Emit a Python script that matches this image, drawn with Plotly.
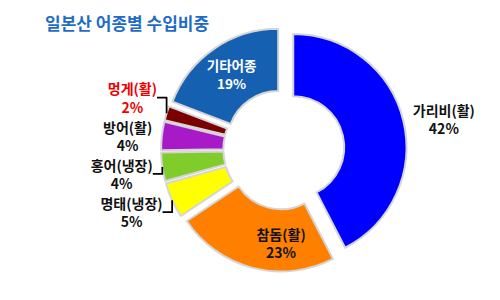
import plotly.graph_objects as go

labels = ["가리비(활)", "참돔(활)", "명태(냉장)", "홍어(냉장)", "방어(활)", "멍게(활)", "기타어종"]
values = [42, 23, 5, 4, 4, 2, 19]
colors = ["#0000FF", "#FF8000", "#FFFF00", "#80CC2A", "#A81AC8", "#7A0000", "#1560B0"]
text_pos = ["outside", "inside", "outside", "outside", "outside", "outside", "inside"]
text_colors = ["#111111", "#111111", "#111111", "#111111", "#111111", "#EE0000", "#FFFFFF"]

fig = go.Figure(go.Pie(
    labels=labels,
    values=values,
    sort=False,
    direction="clockwise",
    rotation=0,
    hole=0.45,
    pull=[0.09, 0.08, 0.08, 0.08, 0.08, 0.08, 0.08],
    marker=dict(colors=colors, line=dict(color="#D5D5D5", width=2)),
    textposition=text_pos,
    texttemplate="%{label}<br>%{value}%",
    textfont=dict(color=text_colors, size=14, family="Noto Sans CJK KR", weight=600),
    insidetextorientation="horizontal",
    showlegend=False,
    domain=dict(x=[0.35, 0.89], y=[0.06, 0.965]),
))

fig.update_layout(
    width=500, height=300,
    margin=dict(l=0, r=0, t=0, b=0),
    paper_bgcolor="white",
    title=dict(text="<b>일본산 어종별 수입비중</b>", x=0.09, y=0.94, xanchor="left",
               font=dict(size=17, color="#1E6CC8", family="Noto Sans CJK KR")),
)

fig.write_html("out.html")
